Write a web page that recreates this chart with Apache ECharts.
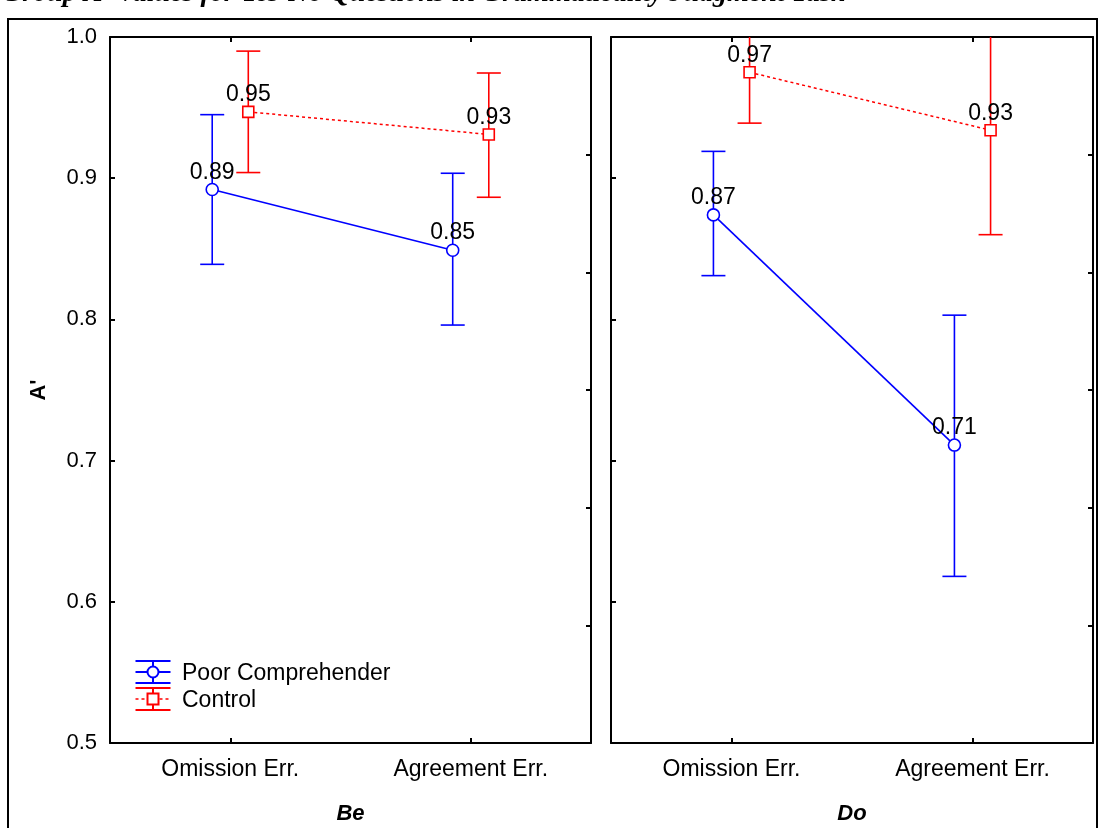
<!DOCTYPE html>
<html>
<head>
<meta charset="utf-8">
<script src="https://cdn.jsdelivr.net/npm/echarts@6/dist/echarts.min.js"></script>
<style>
html,body{margin:0;padding:0;background:#fff;}
#chart{width:1099px;height:828px;}
</style>
</head>
<body>
<div id="chart"></div>
<script>
// ---- data ----
var categories = ['Omission Err.', 'Agreement Err.'];
var panels = ['Be', 'Do'];
var yTicks = [0.5, 0.6, 0.7, 0.8, 0.9, 1.0];
var seriesNames = ['Poor Comprehender', 'Control'];

var poorBe = [0.892, 0.849];
var poorBeLow = [0.839, 0.796];
var poorBeHigh = [0.945, 0.9035];
var controlBe = [0.947, 0.931];
var controlBeLow = [0.904, 0.8865];
var controlBeHigh = [0.990, 0.9745];

var poorDo = [0.874, 0.711];
var poorDoLow = [0.831, 0.618];
var poorDoHigh = [0.919, 0.803];
var controlDo = [0.975, 0.934];
var controlDoLow = [0.939, 0.860];
var controlDoHigh = [1.011, 1.010];

var titleText = "Group A' Values for Yes-No Questions in Grammaticality Judgment Task";

// ---- style ----
var BLUE = '#0000ff', RED = '#ff0000', INK = '#000';
var FONT = 'Liberation Sans, Arial, sans-serif';
var DODGE = 0.075; // horizontal dodge of the two groups (in category units)

var chart = echarts.init(document.getElementById('chart'), null, {renderer: 'canvas'});

var grids = [
  {left: 110, right: 508, top: 37, bottom: 85, containLabel: false, outerBoundsMode: 'none'},
  {left: 611, right: 6, top: 37, bottom: 85, containLabel: false, outerBoundsMode: 'none'}
];

var xAxes = [], yAxes = [], series = [];
var lineStyle = {color: INK, width: 2};

function errRender(color) {
  return function (params, api) {
    var x = api.value(0);
    var lo = api.coord([x, api.value(1)]);
    var hi = api.coord([x, api.value(2)]);
    var cs = params.coordSys;
    var top = cs.y, bottom = cs.y + cs.height;
    var children = [];
    var y1 = Math.max(hi[1], top), y2 = Math.min(lo[1], bottom);
    var st = {stroke: color, lineWidth: 1.6};
    children.push({type: 'line', shape: {x1: lo[0], y1: y1, x2: lo[0], y2: y2}, style: st});
    if (hi[1] >= top) children.push({type: 'line', shape: {x1: hi[0] - 12, y1: hi[1], x2: hi[0] + 12, y2: hi[1]}, style: st});
    if (lo[1] <= bottom) children.push({type: 'line', shape: {x1: lo[0] - 12, y1: lo[1], x2: lo[0] + 12, y2: lo[1]}, style: st});
    return {type: 'group', children: children};
  };
}

var panelData = [
  {poor: poorBe, poorLow: poorBeLow, poorHigh: poorBeHigh, ctl: controlBe, ctlLow: controlBeLow, ctlHigh: controlBeHigh},
  {poor: poorDo, poorLow: poorDoLow, poorHigh: poorDoHigh, ctl: controlDo, ctlLow: controlDoLow, ctlHigh: controlDoHigh}
];

panels.forEach(function (p, gi) {
  var xb = xAxes.length;
  xAxes.push({
    type: 'category', gridIndex: gi, data: categories, position: 'bottom',
    boundaryGap: true,
    axisLine: {show: true, lineStyle: lineStyle},
    axisTick: {show: true, inside: true, length: 5, alignWithLabel: true, lineStyle: lineStyle},
    axisLabel: {show: true, color: INK, fontSize: 23, fontFamily: FONT, margin: 15},
    name: p, nameLocation: 'middle', nameGap: 60,
    nameTextStyle: {color: INK, fontSize: 22, fontFamily: FONT, fontWeight: 'bold', fontStyle: 'italic'},
    splitLine: {show: false}
  });
  xAxes.push({
    type: 'category', gridIndex: gi, data: categories, position: 'top',
    boundaryGap: true,
    axisLine: {show: true, lineStyle: lineStyle},
    axisTick: {show: true, inside: true, length: 5, alignWithLabel: true, lineStyle: lineStyle},
    axisLabel: {show: false}, splitLine: {show: false}
  });
  xAxes.push({type: 'value', gridIndex: gi, min: 0, max: categories.length, show: false});

  var yl = yAxes.length;
  yAxes.push({
    type: 'value', gridIndex: gi, min: yTicks[0], max: yTicks[yTicks.length - 1], interval: 0.1,
    position: 'left',
    axisLine: {show: true, lineStyle: lineStyle},
    axisTick: {show: true, inside: true, length: 5, lineStyle: lineStyle},
    axisLabel: {show: gi === 0, color: INK, fontSize: 22, fontFamily: FONT, margin: 13,
      formatter: function (v) { return v.toFixed(1); }},
    splitLine: {show: false},
    name: gi === 0 ? "A'" : '', nameLocation: 'middle', nameGap: 60,
    nameTextStyle: {color: INK, fontSize: 22, fontFamily: FONT, fontWeight: 'bold'}
  });
  yAxes.push({
    type: 'value', gridIndex: gi, min: 0, max: 6, interval: 1, position: 'right',
    axisLine: {show: true, lineStyle: lineStyle},
    axisTick: {show: true, inside: true, length: 5, lineStyle: lineStyle},
    axisLabel: {show: false}, splitLine: {show: false}
  });

  var d = panelData[gi];
  function pts(vals, off) { return vals.map(function (v, i) { return [i + 0.5 + off, v]; }); }
  function errs(vals, lo, hi, off) { return vals.map(function (v, i) { return [i + 0.5 + off, lo[i], hi[i]]; }); }

  series.push({
    type: 'custom', name: seriesNames[0] + ' err', xAxisIndex: xb + 2, yAxisIndex: yl,
    renderItem: errRender(BLUE), data: errs(d.poor, d.poorLow, d.poorHigh, -DODGE),
    encode: {x: 0, y: [1, 2]}, z: 1, silent: true
  });
  series.push({
    type: 'custom', name: seriesNames[1] + ' err', xAxisIndex: xb + 2, yAxisIndex: yl,
    renderItem: errRender(RED), data: errs(d.ctl, d.ctlLow, d.ctlHigh, DODGE),
    encode: {x: 0, y: [1, 2]}, z: 1, silent: true
  });
  var lbl = {show: true, position: 'top', distance: -1, color: INK, fontSize: 23, fontFamily: FONT,
    formatter: function (pr) { return pr.value[1].toFixed(2); }};
  series.push({
    type: 'line', name: seriesNames[0], xAxisIndex: xb + 2, yAxisIndex: yl,
    data: pts(d.poor, -DODGE), symbol: 'circle', symbolSize: 12,
    itemStyle: {color: '#fff', borderColor: BLUE, borderWidth: 1.6},
    lineStyle: {color: BLUE, width: 1.6, type: 'solid'},
    label: lbl, z: 3, animation: false
  });
  series.push({
    type: 'line', name: seriesNames[1], xAxisIndex: xb + 2, yAxisIndex: yl,
    data: pts(d.ctl, DODGE), symbol: 'rect', symbolSize: 11,
    itemStyle: {color: '#fff', borderColor: RED, borderWidth: 1.6},
    lineStyle: {color: RED, width: 1.5, type: [3, 3]},
    label: lbl, z: 3, animation: false
  });
});

function legendGlyph(cy, color, isCircle) {
  var st = {stroke: color, lineWidth: 2};
  var cx = 153, half = 17.5, gap = 11;
  var els = [
    {type: 'line', shape: {x1: cx - half, y1: cy - gap, x2: cx + half, y2: cy - gap}, style: st},
    {type: 'line', shape: {x1: cx - half, y1: cy + gap, x2: cx + half, y2: cy + gap}, style: st},
    {type: 'line', shape: {x1: cx, y1: cy - gap, x2: cx, y2: cy + gap}, style: st},
    {type: 'line', shape: {x1: cx - half, y1: cy, x2: cx + half, y2: cy},
      style: {stroke: color, lineWidth: isCircle ? 2 : 1.5, lineDash: isCircle ? null : [3, 3]}}
  ];
  if (isCircle) els.push({type: 'circle', shape: {cx: cx, cy: cy, r: 5.5}, style: {fill: '#fff', stroke: color, lineWidth: 2}});
  else els.push({type: 'rect', shape: {x: cx - 5.5, y: cy - 5.5, width: 11, height: 11}, style: {fill: '#fff', stroke: color, lineWidth: 2}});
  return els;
}

var graphics = [
  {type: 'rect', shape: {x: 8, y: 19, width: 1089, height: 830}, style: {fill: 'none', stroke: INK, lineWidth: 2}, z: 0},
  {type: 'text', left: 2, top: -20, style: {text: titleText, fill: INK, font: 'italic bold 28px "Liberation Serif", "Times New Roman", serif'}},
  {type: 'text', left: 182, top: 662, style: {text: seriesNames[0], fill: INK, font: '23px ' + FONT}},
  {type: 'text', left: 182, top: 689, style: {text: seriesNames[1], fill: INK, font: '23px ' + FONT}}
].concat(legendGlyph(672, BLUE, true)).concat(legendGlyph(699, RED, false));

chart.setOption({
  backgroundColor: '#fff',
  animation: false,
  grid: grids,
  xAxis: xAxes,
  yAxis: yAxes,
  series: series,
  graphic: graphics
});
</script>
</body>
</html>
